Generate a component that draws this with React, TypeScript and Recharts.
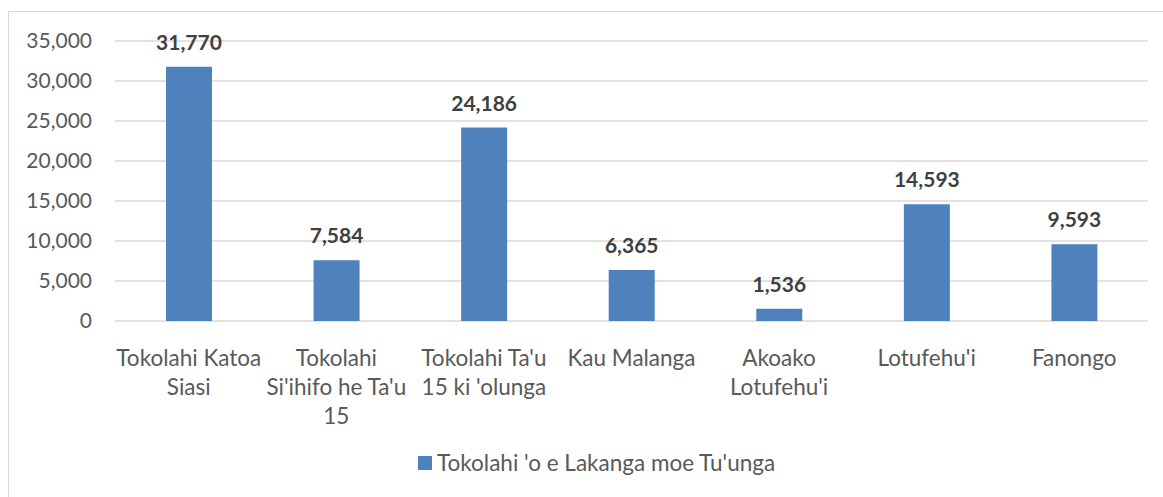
import React from 'react';
import { BarChart, Bar, XAxis, YAxis, CartesianGrid, Legend, LabelList } from 'recharts';

const categories = [
  'Tokolahi Katoa Siasi',
  "Tokolahi Si'ihifo he Ta'u 15",
  "Tokolahi Ta'u 15 ki 'olunga",
  'Kau Malanga',
  "Akoako Lotufehu'i",
  "Lotufehu'i",
  'Fanongo',
];

// how Excel wrapped each category label
const categoryLines = [
  ['Tokolahi Katoa', 'Siasi'],
  ['Tokolahi', "Si'ihifo he Ta'u", '15'],
  ["Tokolahi Ta'u", "15 ki 'olunga"],
  ['Kau Malanga'],
  ['Akoako', "Lotufehu'i"],
  ["Lotufehu'i"],
  ['Fanongo'],
];

const values = [31770, 7584, 24186, 6365, 1536, 14593, 9593];

const yTicks = [0, 5000, 10000, 15000, 20000, 25000, 30000, 35000];

const seriesName = "Tokolahi 'o e Lakanga moe Tu'unga";

const FONT = 'Lato, "Open Sans", sans-serif';
const BLUE = '#4f81bd';

const data = categories.map((c, i) => ({ name: c, value: values[i] }));

const fmt = (v: number) => v.toLocaleString('en-US');

function CategoryTick(props: any) {
  const { x, y, payload } = props;
  const idx = categories.indexOf(payload.value);
  const lines = categoryLines[idx] || [payload.value];
  return (
    <text x={x} y={y} textAnchor="middle" fill="#595959" fontSize={22.5} fontFamily={FONT}>
      {lines.map((l, i) => (
        <tspan key={i} x={x} dy={i === 0 ? 37 : 29}>{l}</tspan>
      ))}
    </text>
  );
}

function LegendContent() {
  return (
    <div style={{ position: 'relative', height: 30, width: 1163 }}>
      <div style={{ position: 'absolute', left: 418, top: 8, width: 14, height: 14, background: BLUE }} />
      <div style={{ position: 'absolute', left: 437, top: 0, lineHeight: '30px', fontSize: 22.5, fontFamily: FONT, color: '#595959', whiteSpace: 'nowrap' }}>
        {seriesName}
      </div>
    </div>
  );
}

export default function App() {
  return (
    <div style={{ position: 'fixed', left: 0, top: 0, width: 1163, height: 497, overflow: 'hidden', background: '#fff' }}>
      <div style={{ position: 'absolute', left: 8, top: 11, width: 1170, height: 500, border: '1px solid #d9d9d9' }} />
      <div style={{ position: 'absolute', left: 0, top: 0 }}>
        <BarChart width={1163} height={497} data={data} margin={{ top: 41, right: 15, left: 0, bottom: 19 }}>
          <CartesianGrid vertical={false} stroke="#d9d9d9" strokeWidth={1.5} />
          <XAxis dataKey="name" axisLine={false} tickLine={false} interval={0} height={127} tick={<CategoryTick />} />
          <YAxis
            domain={[0, 35000]}
            ticks={yTicks}
            width={115}
            axisLine={false}
            tickLine={false}
            tickMargin={17}
            tickFormatter={fmt}
            tick={{ fill: '#595959', fontSize: 21, fontFamily: FONT }}
          />
          <Legend verticalAlign="bottom" content={<LegendContent />} wrapperStyle={{ left: 0, width: 1163 }} />
          <Bar dataKey="value" name={seriesName} fill={BLUE} barSize={46} isAnimationActive={false}>
            <LabelList dataKey="value" position="top" offset={17} formatter={(v: any) => fmt(Number(v))} fill="#404040" fontSize={21} fontWeight="bold" fontFamily={FONT} />
          </Bar>
        </BarChart>
      </div>
    </div>
  );
}
